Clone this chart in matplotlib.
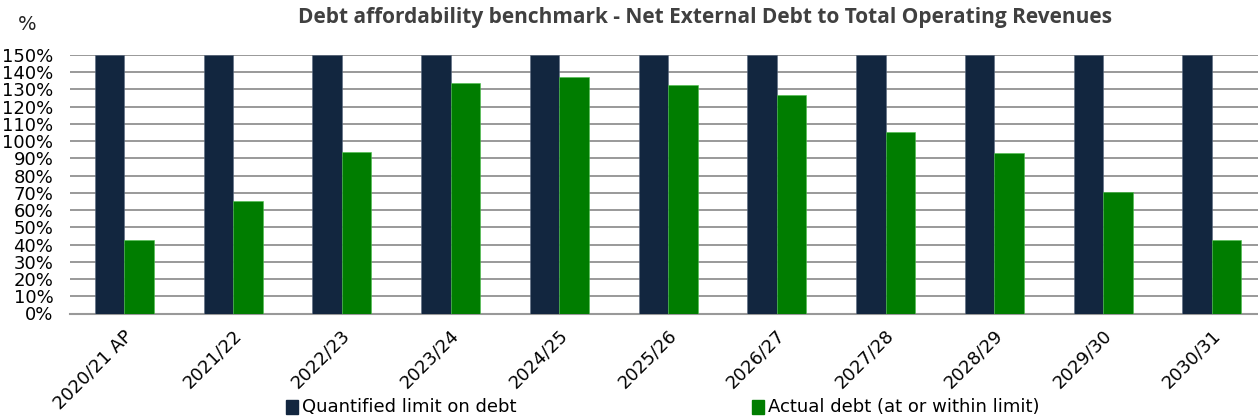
import matplotlib
matplotlib.use("Agg")
import matplotlib.pyplot as plt
import matplotlib.transforms as mtransforms
from matplotlib.patches import Rectangle
import numpy as np

categories = ["2020/21 AP", "2021/22", "2022/23", "2023/24", "2024/25", "2025/26",
              "2026/27", "2027/28", "2028/29", "2029/30", "2030/31"]
limit_values = [150, 150, 150, 150, 150, 150, 150, 150, 150, 150, 150]
actual_values = [42.5, 65, 93.5, 134, 137, 132.5, 126.5, 105.5, 93, 70.5, 42.5]
y_ticks = list(range(0, 151, 10))
series_names = ["Quantified limit on debt", "Actual debt (at or within limit)"]

NAVY = "#12263f"
GREEN = "#007d00"
GRID = "#999999"
TICKFONT = ["DejaVu Sans"]

W, H = 1258, 420
fig = plt.figure(figsize=(W / 100, H / 100), dpi=100)

left_px, right_px = 70, 1258
top_px, bottom_px = 55, 313.5
ax = fig.add_axes([left_px / W, (H - bottom_px) / H,
                   (right_px - left_px) / W, (bottom_px - top_px) / H])

spacing = 108.75
x = np.arange(len(categories))
bw = 0.272
ax.bar(x - bw / 2, limit_values, width=bw, color=NAVY, zorder=3,
       edgecolor="#5a6a80", linewidth=0.4)
ax.bar(x + bw / 2, actual_values, width=bw, color=GREEN, zorder=3,
       edgecolor="#4cbf4c", linewidth=0.4)

ax.set_xlim(-0.5, -0.5 + (right_px - left_px) / spacing)
ax.set_ylim(0, 150)
ax.set_yticks(y_ticks)
ax.set_yticklabels([f"{v}%" for v in y_ticks], fontfamily=TICKFONT, fontsize=13)
ax.yaxis.grid(True, color=GRID, linewidth=1.4, zorder=0)
ax.set_axisbelow(True)
ax.tick_params(axis="y", length=0, pad=12)
ax.tick_params(axis="x", length=0)
for s in ["top", "right", "left"]:
    ax.spines[s].set_visible(False)
ax.spines["bottom"].set_color(GRID)
ax.spines["bottom"].set_linewidth(1.5)

ax.set_xticks(x)
ax.set_xticklabels(categories, rotation=45, ha="right", va="top",
                   rotation_mode="anchor", fontfamily=TICKFONT, fontsize=13)
offset = mtransforms.ScaledTranslation(-1 / 100, -8 / 100, fig.dpi_scale_trans)
for lab in ax.get_xticklabels():
    lab.set_transform(lab.get_transform() + offset)

fig.text(705 / W, 1 - 17 / H,
         "Debt affordability benchmark - Net External Debt to Total Operating Revenues",
         ha="center", va="center", fontsize=15, fontweight="bold",
         color="#404040", family=["Open Sans", "DejaVu Sans"])
fig.text(27 / W, 1 - 25 / H, "%", ha="center", va="center", fontsize=14,
         family=TICKFONT, color="#222222")

# legend
leg_items = [(286, NAVY, series_names[0]), (752, GREEN, series_names[1])]
for px, col, name in leg_items:
    fig.patches.append(Rectangle((px / W, 1 - 414 / H), 12 / W, 14 / H,
                                 transform=fig.transFigure, color=col))
    fig.text((px + 16) / W, 1 - 407 / H, name, ha="left", va="center",
             fontsize=13, family=TICKFONT, color="#000000")

fig.savefig("out.png", dpi=100)
